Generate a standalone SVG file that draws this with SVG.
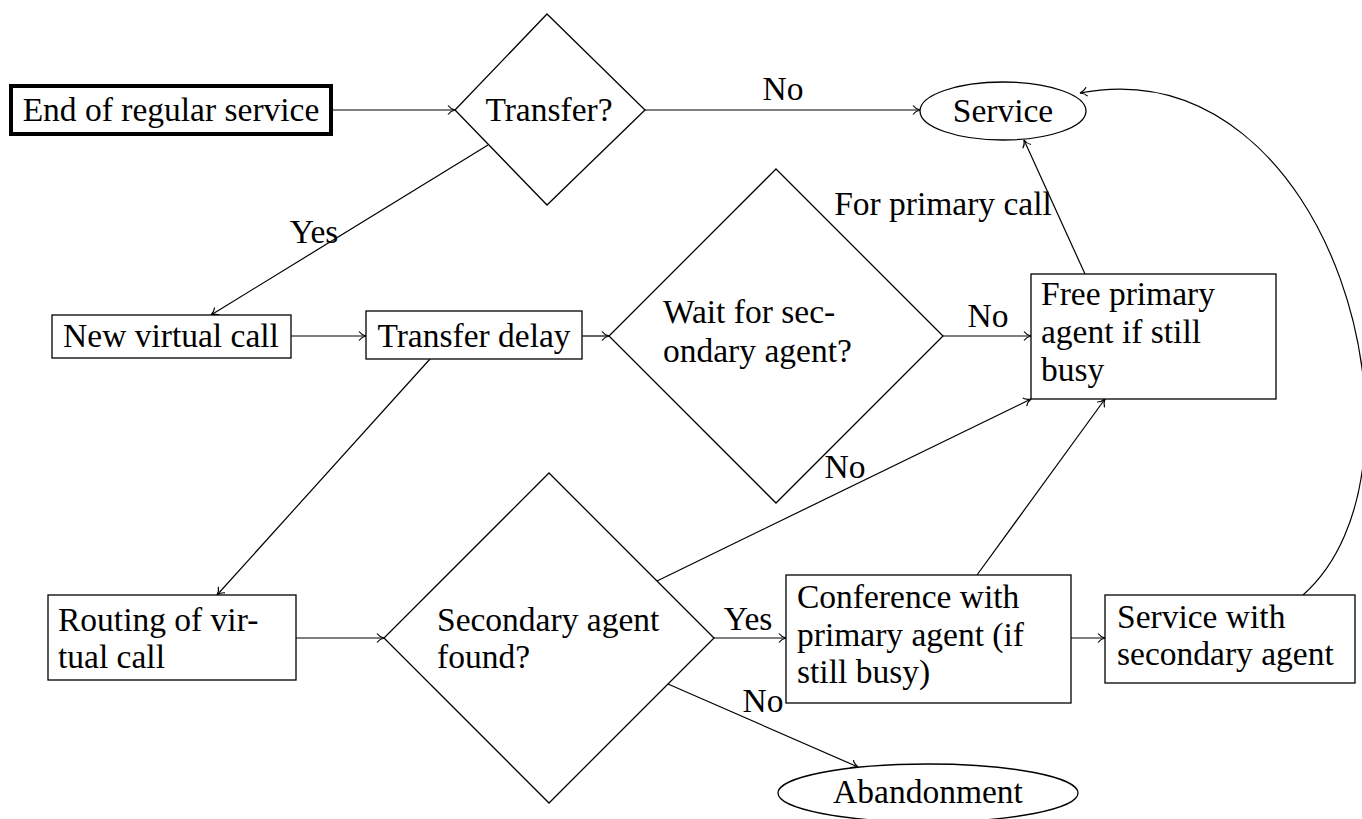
<svg xmlns="http://www.w3.org/2000/svg" width="1362" height="819" viewBox="0 0 1362 819" font-family="'Liberation Serif', 'DejaVu Serif', serif">
<style>
text{font-family:'Liberation Serif','DejaVu Serif',serif;font-size:33.5px;fill:#000}
.c{text-anchor:middle}
.s{fill:#fff;stroke:#000;stroke-width:1.3}
.e{fill:none;stroke:#000;stroke-width:1.2;marker-end:url(#ah)}
</style>
<defs>
<marker id="ah" markerUnits="userSpaceOnUse" markerWidth="16" markerHeight="16" viewBox="-10 -8 12 16" refX="0" refY="0" orient="auto" overflow="visible">
<path d="M-7,-4.5 C-5,-1.8 -2,-0.5 0,0 C-2,0.5 -5,1.8 -7,4.5" fill="none" stroke="#000" stroke-width="1.2"/>
</marker>
</defs>
<rect width="1362" height="819" fill="#fff"/>
<g id="connectors">
<line class="e" x1="333" y1="110" x2="455" y2="110"/>
<line class="e" x1="645" y1="110" x2="920" y2="110"/>
<line class="e" x1="488" y1="145" x2="211" y2="315"/>
<line class="e" x1="291" y1="336" x2="366" y2="336"/>
<line class="e" x1="582" y1="336" x2="609" y2="336"/>
<line class="e" x1="943" y1="336" x2="1031" y2="336"/>
<line class="e" x1="1085" y1="274" x2="1024" y2="140"/>
<line class="e" x1="430" y1="359" x2="217" y2="595"/>
<line class="e" x1="296" y1="638" x2="384" y2="638"/>
<line class="e" x1="657" y1="581" x2="1031" y2="399"/>
<line class="e" x1="714" y1="638" x2="786" y2="638"/>
<line class="e" x1="668" y1="684" x2="858" y2="767"/>
<line class="e" x1="977" y1="575" x2="1105" y2="399"/>
<line class="e" x1="1071" y1="638" x2="1105" y2="638"/>
<path class="e" d="M1303,595 C1445,470 1335,45 1080,93"/>
<text class="c" x="783" y="100">No</text>
<text class="c" x="314" y="243">Yes</text>
<text class="c" x="943" y="215">For primary call</text>
<text class="c" x="988" y="327">No</text>
<text class="c" x="845" y="478">No</text>
<text class="c" x="748" y="630">Yes</text>
<text class="c" x="763" y="712">No</text>
</g>
<g id="end-regular">
<rect x="11" y="86" width="320" height="48" fill="#fff" stroke="#000" stroke-width="4"/>
<text class="c" x="171" y="121">End of regular service</text>
</g>
<g id="transfer-q">
<polygon class="s" points="547,14 645,110 547,205 455,110"/>
<text class="c" x="549" y="121">Transfer?</text>
</g>
<g id="service">
<ellipse class="s" cx="1003" cy="111" rx="83" ry="29"/>
<text class="c" x="1003" y="122">Service</text>
</g>
<g id="new-virtual">
<rect class="s" x="52" y="315" width="239" height="43"/>
<text class="c" x="171" y="347">New virtual call</text>
</g>
<g id="transfer-delay">
<rect class="s" x="366" y="311" width="216" height="48"/>
<text class="c" x="474" y="347">Transfer delay</text>
</g>
<g id="wait-q">
<polygon class="s" points="776,169 943,336 776,503 609,336"/>
<text x="663" y="323">Wait for sec-</text>
<text x="663" y="362">ondary agent?</text>
</g>
<g id="free-primary">
<rect class="s" x="1031" y="274" width="245" height="125"/>
<text x="1041" y="305">Free primary</text>
<text x="1041" y="343">agent if still</text>
<text x="1041" y="381">busy</text>
</g>
<g id="routing">
<rect class="s" x="48" y="595" width="248" height="85"/>
<text x="58" y="631">Routing of vir-</text>
<text x="58" y="668">tual call</text>
</g>
<g id="secondary-q">
<polygon class="s" points="549,473 714,638 549,803 384,638"/>
<text x="437" y="631">Secondary agent</text>
<text x="437" y="668">found?</text>
</g>
<g id="conference">
<rect class="s" x="786" y="575" width="285" height="128"/>
<text x="797" y="608">Conference with</text>
<text x="797" y="646">primary agent (if</text>
<text x="797" y="683">still busy)</text>
</g>
<g id="service-secondary">
<rect class="s" x="1105" y="595" width="250" height="88"/>
<text x="1117" y="628">Service with</text>
<text x="1117" y="665">secondary agent</text>
</g>
<g id="abandonment">
<ellipse class="s" cx="928" cy="793" rx="150" ry="29"/>
<text class="c" x="928" y="803">Abandonment</text>
</g>
</svg>
